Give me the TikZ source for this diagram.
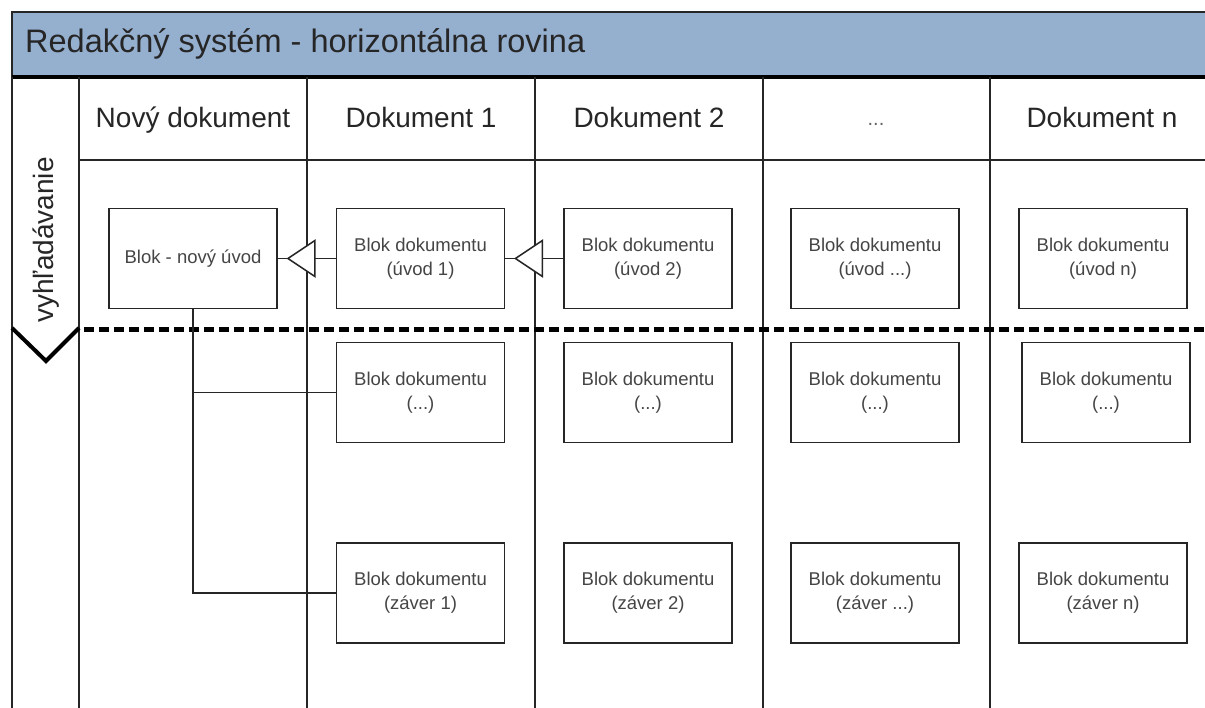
\documentclass[tikz,border=0pt]{standalone}
\usepackage{fontspec}
\setmainfont{Liberation Sans}
\usetikzlibrary{positioning}
\definecolor{barblue}{HTML}{95AFCF}
\definecolor{linegray}{HTML}{262626}
\definecolor{boxtext}{HTML}{454545}
\begin{document}
\begin{tikzpicture}[x=1pt,y=-1pt,
  lane/.style={draw=linegray,line width=2pt},
  blok/.style={draw=linegray,line width=1.8pt,fill=white,minimum width=168pt,minimum height=100pt,
    align=center,font=\fontsize{18.5}{24}\selectfont,text=boxtext,inner sep=0pt},
  colhead/.style={anchor=base,font=\fontsize{28}{32}\selectfont,text=black!85},
  conn/.style={draw=linegray,line width=1.7pt},
  tri/.style={draw=linegray,line width=1.5pt,fill=white,line join=miter}]
\useasboundingbox (0,0) rectangle (1205,708);
\fill[white] (0,0) rectangle (1205,708);
% header bar
\fill[barblue] (12,12) rectangle (1206,77);
\draw[linegray,line width=2pt] (1206,12) -- (12,12) -- (12,77);
\draw[black,line width=3.5pt] (12,77) -- (1206,77);
\node[anchor=base west,font=\fontsize{32.5}{36}\selectfont,text=black!85,inner sep=0pt] (title) at (25,53) {Redakčný systém - horizontálna rovina};
% lanes
\draw[lane] (12,77) -- (12,708);
\draw[lane] (79,77) -- (79,708);
\foreach \x in {307,535,763,990} \draw[lane] (\x,77) -- (\x,708);
\draw[lane] (79,160) -- (1206,160);
% column headers
\node[colhead] (h1) at (193,128) {Nový dokument};
\node[colhead] (h2) at (421,128) {Dokument 1};
\node[colhead] (h3) at (649,128) {Dokument 2};
\node[colhead,font=\fontsize{20}{24}\selectfont,text=black!60] (h4) at (876,126) {...};
\node[colhead] (h5) at (1102,128) {Dokument n};
% side label
\node[rotate=90,font=\fontsize{28}{32}\selectfont,text=black!85,inner sep=0pt] (side) at (46,240) {vyhľadávanie};
% dashed line and chevron
\draw[black,line width=5pt,dash pattern=on 10pt off 5pt] (84,330) -- (1206,330);
\draw[black,line width=4pt,line join=miter] (12,328) -- (46,361) -- (79,328);
% blocks
\node[blok] (n1) at (193,258.5) {Blok - nový úvod};
\node[blok] (u1) at (420.5,258.5) {Blok dokumentu\\(úvod 1)};
\node[blok] (u2) at (648,258.5) {Blok dokumentu\\(úvod 2)};
\node[blok] (u3) at (875,258.5) {Blok dokumentu\\(úvod ...)};
\node[blok] (u4) at (1103,258.5) {Blok dokumentu\\(úvod n)};
\node[blok] (m1) at (420.5,392.5) {Blok dokumentu\\(...)};
\node[blok] (m2) at (648,392.5) {Blok dokumentu\\(...)};
\node[blok] (m3) at (875,392.5) {Blok dokumentu\\(...)};
\node[blok] (m4) at (1106,392.5) {Blok dokumentu\\(...)};
\node[blok] (z1) at (420.5,593) {Blok dokumentu\\(záver 1)};
\node[blok] (z2) at (648,593) {Blok dokumentu\\(záver 2)};
\node[blok] (z3) at (875,593) {Blok dokumentu\\(záver ...)};
\node[blok] (z4) at (1103,593) {Blok dokumentu\\(záver n)};
% connectors
\draw[conn] (u1.west) -- (n1.east);
\draw[tri] ([xshift=10pt]n1.east) -- ++(27,-18) -- ++(0,36) -- cycle;
\draw[conn] (u2.west) -- (u1.east);
\draw[tri] ([xshift=10pt]u1.east) -- ++(27,-18) -- ++(0,36) -- cycle;
\draw[conn] (n1.south) |- (m1.west);
\draw[conn] (n1.south) |- (z1.west);
\end{tikzpicture}
\end{document}
